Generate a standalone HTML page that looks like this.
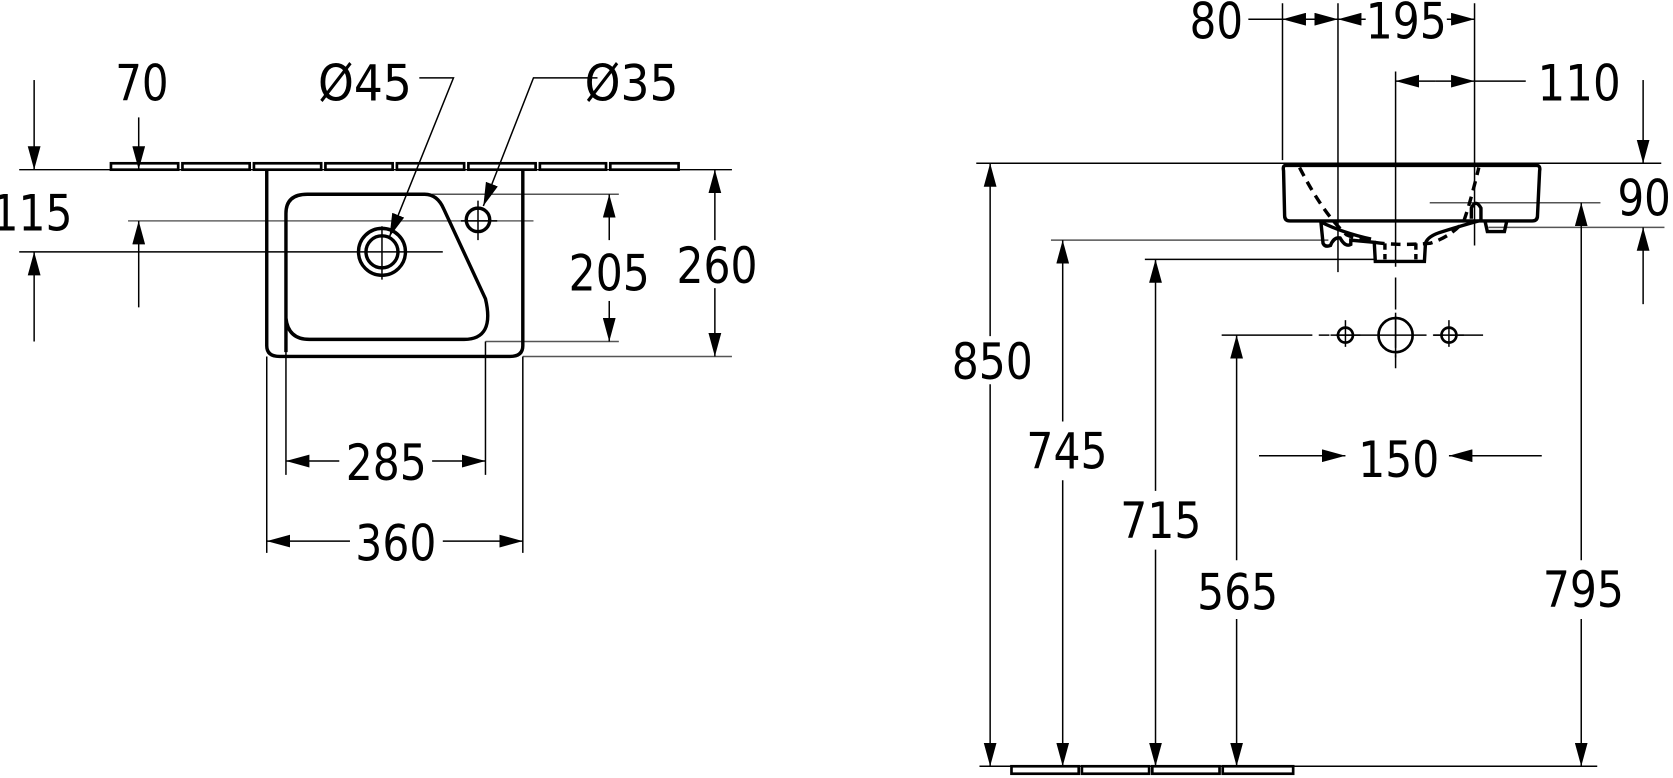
<!DOCTYPE html>
<html><head><meta charset="utf-8"><style>
html,body{margin:0;padding:0;background:#fff;}
svg{display:block;}
text{font-family:"DejaVu Sans","Liberation Sans",sans-serif;font-size:47px;fill:#000;}
</style></head><body>
<svg width="1673" height="778" viewBox="0 0 1568 729" preserveAspectRatio="none" xmlns="http://www.w3.org/2000/svg">
<defs>
<marker id="a" markerUnits="userSpaceOnUse" markerWidth="24" markerHeight="12" refX="22" refY="6" orient="auto"><path d="M0,0 L22,6 L0,12 Z" fill="#000"/></marker>
</defs>
<g stroke="#000" fill="none">
<g stroke-width="2.5">
<rect x="104" y="153" width="63" height="6"/><rect x="171" y="153" width="63" height="6"/><rect x="238" y="153" width="63" height="6"/><rect x="305" y="153" width="63" height="6"/><rect x="372" y="153" width="63" height="6"/><rect x="439" y="153" width="63" height="6"/><rect x="506" y="153" width="62" height="6"/><rect x="572" y="153" width="64" height="6"/>
</g>
<g stroke-width="1.4">
<line x1="18" y1="159" x2="686" y2="159"/>
<line x1="120" y1="207" x2="500" y2="207" stroke="#666"/>
<line x1="18" y1="236" x2="415" y2="236"/>
<line x1="405" y1="182" x2="580" y2="182" stroke="#555"/>
<line x1="455" y1="320" x2="580" y2="320" stroke="#555"/>
<line x1="490" y1="334" x2="686" y2="334" stroke="#555"/>
<line x1="268" y1="320" x2="268" y2="445"/><line x1="455" y1="320" x2="455" y2="445"/>
<line x1="250" y1="334" x2="250" y2="518"/><line x1="490" y1="334" x2="490" y2="518"/>
<line x1="448" y1="188" x2="448" y2="225"/><line x1="432" y1="207" x2="466" y2="207"/>
<line x1="358" y1="212" x2="358" y2="262"/>
<line x1="32" y1="75" x2="32" y2="159" marker-end="url(#a)"/>
<line x1="32" y1="320" x2="32" y2="236" marker-end="url(#a)"/>
<line x1="130" y1="110" x2="130" y2="159" marker-end="url(#a)"/>
<line x1="130" y1="288" x2="130" y2="207" marker-end="url(#a)"/>
<polyline points="393,73 425,73 365,222" marker-end="url(#a)"/>
<polyline points="560,73 500,73 453,193" marker-end="url(#a)"/>
<line x1="571" y1="225" x2="571" y2="182" marker-end="url(#a)"/>
<line x1="571" y1="282" x2="571" y2="320" marker-end="url(#a)"/>
<line x1="670" y1="225" x2="670" y2="159" marker-end="url(#a)"/>
<line x1="670" y1="270" x2="670" y2="334" marker-end="url(#a)"/>
<line x1="318" y1="432" x2="268" y2="432" marker-end="url(#a)"/>
<line x1="405" y1="432" x2="455" y2="432" marker-end="url(#a)"/>
<line x1="328" y1="507" x2="250" y2="507" marker-end="url(#a)"/>
<line x1="415" y1="507" x2="490" y2="507" marker-end="url(#a)"/>
</g>
<g stroke-width="3.2">
<path d="M250,160 L250,324 Q250,334 262,334 L478,334 Q490,334 490,324 L490,160"/>
<path d="M268,330 L268,200 Q268,182 288,182 L398,182 Q410,182 416,196 L455,280 Q464,318 435,318 L290,318 Q270,318 268,298"/>
<circle cx="358" cy="236" r="22"/><circle cx="358" cy="236" r="15"/>
<circle cx="448" cy="206" r="11"/>
</g>
<g stroke-width="1.4">
<line x1="915" y1="153" x2="1557" y2="153"/>
<line x1="1202" y1="3" x2="1202" y2="150"/>
<line x1="1254" y1="3" x2="1254" y2="255"/>
<line x1="1382" y1="3" x2="1382" y2="230"/>
<line x1="1308" y1="67" x2="1308" y2="250"/>
<line x1="1308" y1="260" x2="1308" y2="345" stroke-dasharray="30,6"/>
<line x1="1340" y1="190" x2="1500" y2="190" stroke="#555"/>
<line x1="1395" y1="213" x2="1560" y2="213" stroke="#555"/>
<line x1="985" y1="225" x2="1245" y2="225" stroke="#555"/>
<line x1="1073" y1="243" x2="1290" y2="243"/>
<line x1="1145" y1="314" x2="1390" y2="314" stroke-dasharray="85,6,10,6"/>
<line x1="918" y1="718" x2="1497" y2="718"/>
<line x1="1261" y1="300" x2="1261" y2="325"/><line x1="1358" y1="300" x2="1358" y2="325"/>
<line x1="1170" y1="18" x2="1202" y2="18"/>
<line x1="1230" y1="18" x2="1202" y2="18" marker-end="url(#a)"/>
<line x1="1228" y1="18" x2="1254" y2="18" marker-end="url(#a)"/>
<line x1="1280" y1="18" x2="1254" y2="18" marker-end="url(#a)"/>
<line x1="1356" y1="18" x2="1382" y2="18" marker-end="url(#a)"/>
<line x1="1345" y1="76" x2="1308" y2="76" marker-end="url(#a)"/>
<line x1="1345" y1="76" x2="1382" y2="76" marker-end="url(#a)"/>
<line x1="1382" y1="76" x2="1430" y2="76"/>
<line x1="1540" y1="75" x2="1540" y2="153" marker-end="url(#a)"/>
<line x1="1540" y1="285" x2="1540" y2="213" marker-end="url(#a)"/>
<line x1="928" y1="315" x2="928" y2="153" marker-end="url(#a)"/>
<line x1="928" y1="360" x2="928" y2="718" marker-end="url(#a)"/>
<line x1="996" y1="395" x2="996" y2="225" marker-end="url(#a)"/>
<line x1="996" y1="450" x2="996" y2="718" marker-end="url(#a)"/>
<line x1="1083" y1="460" x2="1083" y2="243" marker-end="url(#a)"/>
<line x1="1083" y1="515" x2="1083" y2="718" marker-end="url(#a)"/>
<line x1="1159" y1="525" x2="1159" y2="314" marker-end="url(#a)"/>
<line x1="1159" y1="580" x2="1159" y2="718" marker-end="url(#a)"/>
<line x1="1482" y1="525" x2="1482" y2="190" marker-end="url(#a)"/>
<line x1="1482" y1="580" x2="1482" y2="718" marker-end="url(#a)"/>
<line x1="1180" y1="427" x2="1261" y2="427" marker-end="url(#a)"/>
<line x1="1445" y1="427" x2="1358" y2="427" marker-end="url(#a)"/>
<line x1="1247" y1="314" x2="1275" y2="314"/><line x1="1344" y1="314" x2="1372" y2="314"/>
<line x1="1308" y1="293" x2="1308" y2="335"/>
</g>
<g stroke-width="2.5">
<rect x="948" y="718" width="63" height="7"/><rect x="1014" y="718" width="63" height="7"/><rect x="1080" y="718" width="63" height="7"/><rect x="1146" y="718" width="66" height="7"/>
<circle cx="1261" cy="314" r="7"/><circle cx="1358" cy="314" r="7"/><circle cx="1308" cy="314" r="16"/>
</g>
<g stroke-width="3.2">
<path d="M1205,155 L1440,155 Q1444,155 1443,160 L1441,202 Q1441,207 1436,207 L1209,207 Q1204,207 1204,202 L1203,160 Q1202,155 1205,155 Z"/>
<path d="M1238,208 L1240,228 Q1242,232 1247,230 Q1250,222 1256,223 Q1261,232 1266,229 L1266,225 L1288,227 L1289,245 L1335,245 L1336,228 Q1338,221 1352,217 Q1375,210 1386,207"/>
<path d="M1238,208 Q1258,218 1285,224"/>
<path d="M1379,205 L1379,195 Q1383,186 1388,195 L1388,207"/>
<path d="M1392,208 L1394,217 L1410,217 L1412,208"/>
<path d="M1218,157 Q1240,200 1262,220 Q1290,232 1340,228 Q1360,222 1372,207 Q1378,190 1386,157" stroke-dasharray="9,6"/>
<path d="M1298,228 L1298,243 M1327,228 L1327,243" stroke-dasharray="6,4"/>
</g>
</g>
<g>
<text x="133" y="94" text-anchor="middle" textLength="50" lengthAdjust="spacingAndGlyphs">70</text>
<text x="30" y="216" text-anchor="middle" textLength="76" lengthAdjust="spacingAndGlyphs">115</text>
<text x="342" y="94" text-anchor="middle" textLength="88" lengthAdjust="spacingAndGlyphs">Ø45</text>
<text x="592" y="94" text-anchor="middle" textLength="88" lengthAdjust="spacingAndGlyphs">Ø35</text>
<text x="571" y="272" text-anchor="middle" textLength="76" lengthAdjust="spacingAndGlyphs">205</text>
<text x="672" y="265" text-anchor="middle" textLength="76" lengthAdjust="spacingAndGlyphs">260</text>
<text x="362" y="450" text-anchor="middle" textLength="76" lengthAdjust="spacingAndGlyphs">285</text>
<text x="371" y="525" text-anchor="middle" textLength="76" lengthAdjust="spacingAndGlyphs">360</text>
<text x="1140" y="36" text-anchor="middle" textLength="50" lengthAdjust="spacingAndGlyphs">80</text>
<text x="1318" y="36" text-anchor="middle" textLength="76" lengthAdjust="spacingAndGlyphs">195</text>
<text x="1480" y="94" text-anchor="middle" textLength="78" lengthAdjust="spacingAndGlyphs">110</text>
<text x="1541" y="202" text-anchor="middle" textLength="50" lengthAdjust="spacingAndGlyphs">90</text>
<text x="930" y="355" text-anchor="middle" textLength="76" lengthAdjust="spacingAndGlyphs">850</text>
<text x="1000" y="439" text-anchor="middle" textLength="76" lengthAdjust="spacingAndGlyphs">745</text>
<text x="1088" y="504" text-anchor="middle" textLength="76" lengthAdjust="spacingAndGlyphs">715</text>
<text x="1160" y="571" text-anchor="middle" textLength="76" lengthAdjust="spacingAndGlyphs">565</text>
<text x="1484" y="569" text-anchor="middle" textLength="76" lengthAdjust="spacingAndGlyphs">795</text>
<text x="1311" y="447" text-anchor="middle" textLength="76" lengthAdjust="spacingAndGlyphs">150</text>
</g>
</svg>
</body></html>
